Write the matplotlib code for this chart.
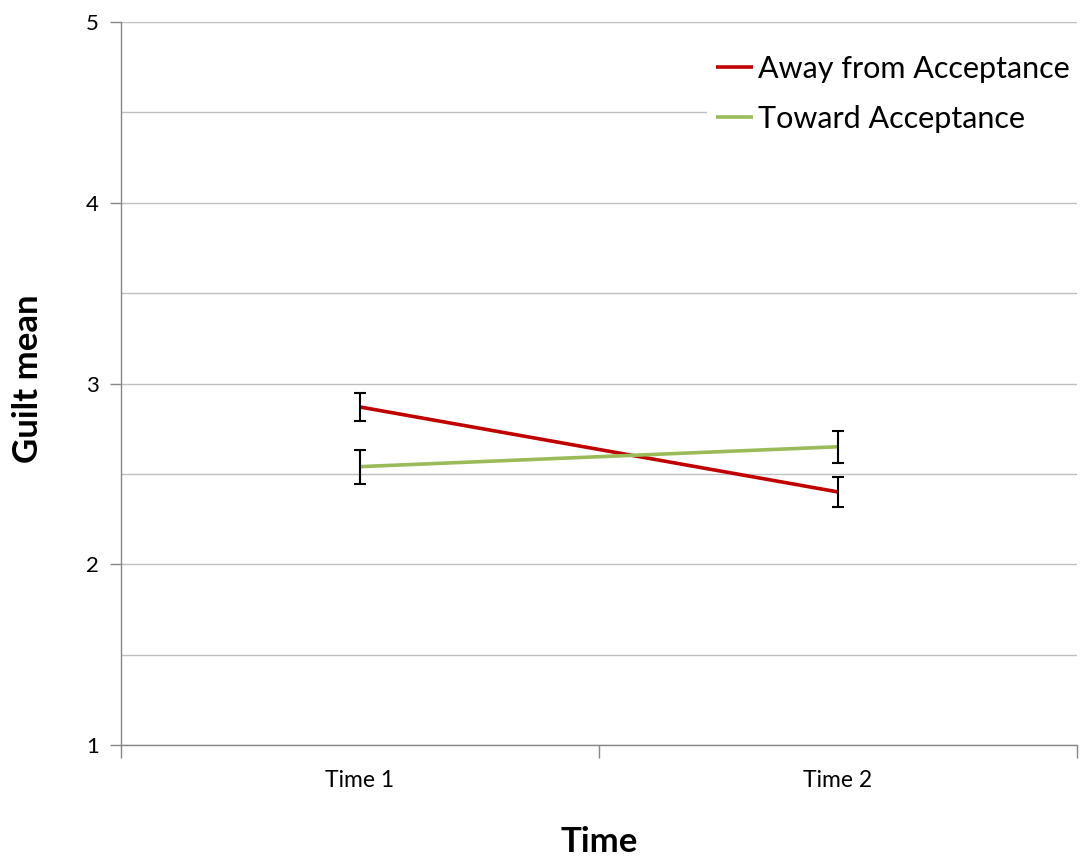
import matplotlib
matplotlib.use("Agg")
import matplotlib.pyplot as plt
from matplotlib.ticker import MultipleLocator

plt.rcParams['font.family'] = ['Lato', 'DejaVu Sans']

# Data
times = ["Time 1", "Time 2"]
away_mean = [2.87, 2.40]
away_err = [0.076, 0.083]
toward_mean = [2.54, 2.65]
toward_err = [0.094, 0.089]

series_names = ["Away from Acceptance", "Toward Acceptance"]
colors = ["#C00000", "#9BBB59"]

fig = plt.figure(figsize=(10.84, 8.56), dpi=100)
ax = fig.add_axes([121 / 1084, 1 - 745 / 856, (1077 - 121) / 1084, (745 - 22) / 856])

x = [0.5, 1.5]
axis_gray = "#868686"
grid_gray = "#BFBFBF"

ax.plot(x, away_mean, color=colors[0], lw=2.6, label=series_names[0], zorder=3, solid_capstyle="butt")
ax.plot(x, toward_mean, color=colors[1], lw=2.6, label=series_names[1], zorder=3, solid_capstyle="butt")
ax.errorbar(x, away_mean, yerr=away_err, fmt="none", ecolor="black", elinewidth=1.5,
            capsize=4, capthick=1.5, zorder=4)
ax.errorbar(x, toward_mean, yerr=toward_err, fmt="none", ecolor="black", elinewidth=1.5,
            capsize=4, capthick=1.5, zorder=4)

ax.set_xlim(0, 2)
ax.set_ylim(1, 5)

# y axis: labelled integers, gridlines every half unit
ax.yaxis.set_major_locator(MultipleLocator(1))
ax.yaxis.set_minor_locator(MultipleLocator(0.5))
ax.grid(True, axis="y", which="both", color=grid_gray, lw=1.0, zorder=0)
ax.tick_params(axis="y", which="major", length=8, width=1, color=axis_gray,
               labelsize=16, pad=8, labelcolor="black")
ax.tick_params(axis="y", which="minor", length=0)

# x axis: category labels between boundary ticks
ax.set_xticks([0, 1, 2])
ax.set_xticklabels([])
ax.set_xticks(x, minor=True)
ax.set_xticklabels(times, minor=True)
ax.tick_params(axis="x", which="major", length=9, width=1, color=axis_gray, direction="out")
ax.tick_params(axis="x", which="minor", length=0, labelsize=16.5, pad=18)

for side in ["top", "right"]:
    ax.spines[side].set_visible(False)
for side in ["left", "bottom"]:
    ax.spines[side].set_color(axis_gray)
    ax.spines[side].set_linewidth(1)

ax.set_ylabel("Guilt mean", fontsize=25, fontweight="bold")
ax.yaxis.set_label_coords(-0.0805, 0.507)
ax.set_xlabel("Time", fontsize=25, fontweight="bold", labelpad=25)

leg = ax.legend(loc="upper left", bbox_to_anchor=(0.613, 0.967), fontsize=22,
                frameon=True, facecolor="white", edgecolor="none", framealpha=1,
                handlelength=1.2, handletextpad=0.16, labelspacing=0.72,
                borderpad=0.3, borderaxespad=0)
leg.set_zorder(5)

fig.savefig("out.png", dpi=100, facecolor="white")
